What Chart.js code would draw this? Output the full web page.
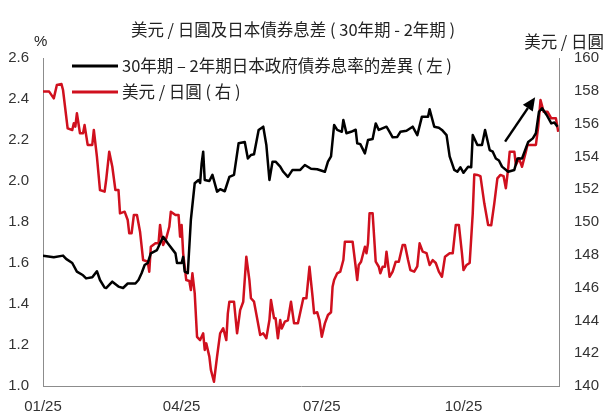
<!DOCTYPE html>
<html>
<head>
<meta charset="utf-8">
<script src="https://cdn.jsdelivr.net/npm/chart.js@4.4.1/dist/chart.umd.min.js"></script>
<style>
  html, body { margin: 0; padding: 0; background: #fff; }
  #wrap { width: 612px; height: 418px; }
</style>
</head>
<body>
<div id="wrap"><canvas id="chart" width="612" height="418"></canvas></div>
<script>
// x values are days since 1 Jan 2025
const xTickDays = [0, 90, 181, 273];
const xTickLabels = ['01/25', '04/25', '07/25', '10/25'];

// 30Y - 2Y JGB spread (%), left axis
const spreadDays = [
  0, 7, 13, 15, 19, 22, 26, 28, 32, 35,
  37, 40, 41, 45, 49, 52, 55, 60, 62, 64,
  66, 68, 70, 74, 78, 81, 86, 87, 90, 91,
  92, 94, 96, 98.5, 101, 102, 103, 104, 105, 108,
  110, 113, 115, 118, 121, 124, 127, 131, 133, 135,
  137, 140, 143, 145, 147, 149, 151, 154, 156, 159,
  162, 167, 170, 174, 178, 183, 185, 187, 189, 191,
  194, 195, 197, 200, 203, 204, 206, 209, 211, 214,
  216, 218, 223, 225, 227, 230, 232, 236, 240, 243,
  246, 250, 251, 254, 257, 259, 262, 264, 267, 269,
  271, 273, 276, 278, 279, 282, 285, 287, 290, 292,
  294, 296, 298, 302, 306, 308, 311, 315, 318, 320,
  322, 324, 327, 330, 332, 334
];
const spreadVals = [
  1.636, 1.628, 1.636, 1.62, 1.60, 1.558, 1.54, 1.525, 1.53, 1.56,
  1.517, 1.48, 1.478, 1.509, 1.485, 1.478, 1.50, 1.50, 1.517, 1.55,
  1.59, 1.60, 1.647, 1.663, 1.728, 1.696, 1.647, 1.60, 1.60, 1.63,
  1.558, 1.55, 1.81, 1.989, 2.005, 1.99, 2.086, 2.143, 2.005, 2.0,
  2.03, 1.948, 1.96, 1.95, 2.02, 2.03, 2.184, 2.19, 2.11, 2.127,
  2.13, 2.249, 2.265, 2.176, 2.005, 2.094, 2.094, 2.07, 2.045, 2.02,
  2.054, 2.054, 2.078, 2.06, 2.057, 2.045, 2.094, 2.12, 2.273, 2.249,
  2.24, 2.298, 2.233, 2.24, 2.25, 2.184, 2.18, 2.135, 2.20, 2.205,
  2.281, 2.249, 2.265, 2.24, 2.213, 2.215, 2.24, 2.245, 2.265, 2.224,
  2.314, 2.314, 2.35, 2.265, 2.26, 2.249, 2.224, 2.12, 2.054, 2.045,
  2.067, 2.04, 2.07, 2.067, 2.224, 2.176, 2.176, 2.249, 2.151, 2.143,
  2.11, 2.10, 2.07, 2.045, 2.054, 2.11, 2.11, 2.19, 2.208, 2.233,
  2.338, 2.355, 2.322, 2.281, 2.285, 2.265
];

// USD/JPY, right axis
const usdjpyDays = [
  0, 4, 7, 9, 12, 13, 16, 19, 20, 21,
  22, 24, 26, 27, 29, 32, 33, 35, 37, 40,
  41, 43, 45, 47, 49, 50, 53, 55, 56, 57.5,
  59, 61, 63, 65, 68, 69, 70, 73, 75, 76,
  77, 78, 80, 82, 83, 86, 88, 89, 90, 91,
  93, 95, 96, 97, 98.5, 100, 102, 104, 105, 106,
  108, 109, 111, 113, 115, 117, 119, 120, 121, 124,
  126, 128, 130, 132, 134, 135, 137, 139, 141, 143,
  145, 147, 148, 150, 151, 152.5, 154, 155, 157, 159,
  161, 163, 165.5, 169, 171, 173, 175, 176, 178, 179.5,
  181, 183, 185, 187, 188, 189, 191, 193, 195, 196,
  199, 201, 203, 204, 205, 206.5, 209, 210, 211, 212,
  214, 216, 218, 219, 220.5, 222, 223, 225, 227, 229,
  231, 233.5, 235, 237, 238.5, 241, 243, 244.5, 246.5, 249,
  251, 253, 255, 257, 259, 261, 264, 266, 268, 270,
  272, 273, 275, 277, 279, 280, 282, 284, 286.5, 289,
  291, 293, 295, 297, 299, 300.5, 302, 303, 306, 307,
  309, 311, 313.5, 314.5, 320, 321.5, 323, 325, 327.5, 330,
  333, 334.5
];
const usdjpyVals = [
  157.95, 157.95, 157.54, 158.35, 158.41, 158.05, 155.71, 155.61, 156.02, 155.81,
  156.63, 155.41, 155.41, 155.91, 154.70, 154.70, 155.61, 153.98, 151.95, 151.85,
  152.56, 154.29, 153.37, 151.95, 151.95, 150.53, 150.63, 150.12, 149.31, 149.31,
  150.43, 150.43, 149.41, 147.68, 147.58, 146.97, 148.49, 148.70, 148.70, 149.82,
  149.10, 148.6, 149.0, 149.71, 150.63, 150.43, 150.43, 149.1, 149.82, 148.09,
  146.46, 146.4, 145.85, 146.87, 145.65, 143.0, 142.8, 143.21, 142.2, 142.6,
  141.79, 140.98, 140.26, 141.79, 143.21, 143.52, 142.8, 144.43, 145.14, 145.14,
  143.21, 144.63, 145.14, 147.88, 146.46, 145.35, 145.14, 144.13, 143.11, 143.21,
  142.91, 144.02, 145.24, 144.13, 144.13, 142.91, 144.02, 143.5, 143.92, 144.0,
  145.14, 143.82, 143.82, 145.35, 145.35, 147.27, 145.45, 144.43, 144.5, 144.0,
  143.0, 143.82, 144.33, 144.5, 146.05, 146.46, 146.87, 146.97, 147.68, 148.8,
  148.8, 148.8, 147.27, 146.46, 147.38, 147.58, 148.49, 148.09, 148.7, 150.53,
  150.53, 147.58, 147.27, 146.87, 147.27, 147.27, 148.19, 146.66, 146.97, 147.58,
  147.58, 148.6, 148.6, 147.68, 147.07, 146.97, 147.3, 148.7, 148.19, 148.1,
  147.38, 147.68, 147.5, 146.97, 146.66, 147.88, 148.09, 148.09, 149.82, 149.82,
  148.09, 147.07, 147.38, 147.5, 150.53, 152.9, 152.87, 152.8, 151.14, 149.82,
  149.8, 151.14, 152.66, 152.87, 152.8, 152.06, 153.27, 154.29, 154.29, 153.48,
  153.88, 153.37, 154.29, 154.7, 154.7, 155.81, 157.44, 156.73, 156.73, 156.32,
  156.32, 155.5
];

// arrow annotation: [day, USD/JPY]
const arrowFrom = [300, 154.9];
const arrowTo = [319.5, 157.6];

const titleText = '美元 / 日圓及日本債券息差 ( 30年期 - 2年期 )';
const leftUnit = '%';
const rightUnit = '美元 / 日圓';
const seriesNames = ['30年期 – 2年期日本政府債券息率的差異 ( 左 )', '美元 / 日圓 ( 右 )'];

const cjkFont = '"Noto Sans CJK TC", "Noto Sans CJK SC", sans-serif';
const numFont = '"Liberation Sans", Arial, sans-serif';
const RED = '#d0101e';

const overlay = {
  id: 'overlay',
  afterDraw(chart) {
    const { ctx, scales } = chart;
    ctx.save();
    ctx.fillStyle = '#222';
    ctx.textBaseline = 'middle';

    // title and axis units
    ctx.font = '16.5px ' + cjkFont;
    ctx.textAlign = 'center';
    ctx.fillText(titleText, 293, 30);
    ctx.textAlign = 'left';
    ctx.font = '15px ' + numFont;
    ctx.fillText(leftUnit, 34, 42);
    ctx.font = '16.5px ' + cjkFont;
    ctx.textAlign = 'right';
    ctx.fillText(rightUnit, 604, 42);

    // legend
    ctx.textAlign = 'left';
    chart.data.datasets.forEach((ds, i) => {
      const y = 66 + i * 26;
      ctx.strokeStyle = ds.borderColor;
      ctx.lineWidth = 3;
      ctx.beginPath();
      ctx.moveTo(72, y);
      ctx.lineTo(118, y);
      ctx.stroke();
      ctx.fillStyle = '#222';
      ctx.fillText(ds.label, 122, y);
    });

    // arrow
    const x0 = scales.x.getPixelForValue(arrowFrom[0]);
    const y0 = scales.y2.getPixelForValue(arrowFrom[1]);
    const x1 = scales.x.getPixelForValue(arrowTo[0]);
    const y1 = scales.y2.getPixelForValue(arrowTo[1]);
    const ang = Math.atan2(y1 - y0, x1 - x0);
    const head = 13, half = 6;
    const bx = x1 - head * Math.cos(ang), by = y1 - head * Math.sin(ang);
    ctx.strokeStyle = '#000';
    ctx.fillStyle = '#000';
    ctx.lineWidth = 2.5;
    ctx.beginPath();
    ctx.moveTo(x0, y0);
    ctx.lineTo(bx, by);
    ctx.stroke();
    ctx.beginPath();
    ctx.moveTo(x1, y1);
    ctx.lineTo(bx + half * Math.sin(ang), by - half * Math.cos(ang));
    ctx.lineTo(bx - half * Math.sin(ang), by + half * Math.cos(ang));
    ctx.closePath();
    ctx.fill();
    ctx.restore();
  }
};

const axisGrey = '#8c8c8c';
const tickStyle = { color: '#333', font: { family: numFont, size: 15 } };

new Chart(document.getElementById('chart'), {
  type: 'line',
  data: {
    datasets: [
      {
        label: seriesNames[0],
        data: spreadDays.map((d, i) => ({ x: d, y: spreadVals[i] })),
        borderColor: '#000',
        borderWidth: 2.5,
        yAxisID: 'y'
      },
      {
        label: seriesNames[1],
        data: usdjpyDays.map((d, i) => ({ x: d, y: usdjpyVals[i] })),
        borderColor: RED,
        borderWidth: 2.5,
        yAxisID: 'y2'
      }
    ]
  },
  options: {
    responsive: false,
    animation: false,
    layout: { padding: { top: 58, left: 0, right: 0, bottom: 0 } },
    elements: {
      point: { radius: 0 },
      line: { tension: 0, borderJoinStyle: 'round', fill: false }
    },
    plugins: {
      legend: { display: false },
      title: { display: false },
      tooltip: { enabled: false }
    },
    scales: {
      x: {
        type: 'linear',
        min: 0,
        max: 335,
        grid: { display: false, drawTicks: false },
        border: { display: true, color: axisGrey, width: 1 },
        afterBuildTicks: axis => { axis.ticks = xTickDays.map(v => ({ value: v })); },
        ticks: {
          ...tickStyle,
          padding: 12,
          maxRotation: 0,
          autoSkip: false,
          callback: v => xTickLabels[xTickDays.indexOf(v)]
        },
        afterFit: s => { s.height = 32; }
      },
      y: {
        position: 'left',
        min: 1.0,
        max: 2.6,
        grid: { display: false, drawTicks: false },
        border: { display: true, color: axisGrey, width: 1 },
        ticks: { ...tickStyle, stepSize: 0.2, padding: 14, callback: v => v.toFixed(1) },
        afterFit: s => { s.width = 43; }
      },
      y2: {
        position: 'right',
        min: 140,
        max: 160,
        grid: { display: false, drawTicks: false },
        border: { display: true, color: axisGrey, width: 1 },
        ticks: { ...tickStyle, stepSize: 2, padding: 15 },
        afterFit: s => { s.width = 53; }
      }
    }
  },
  plugins: [overlay]
});
</script>
</body>
</html>
